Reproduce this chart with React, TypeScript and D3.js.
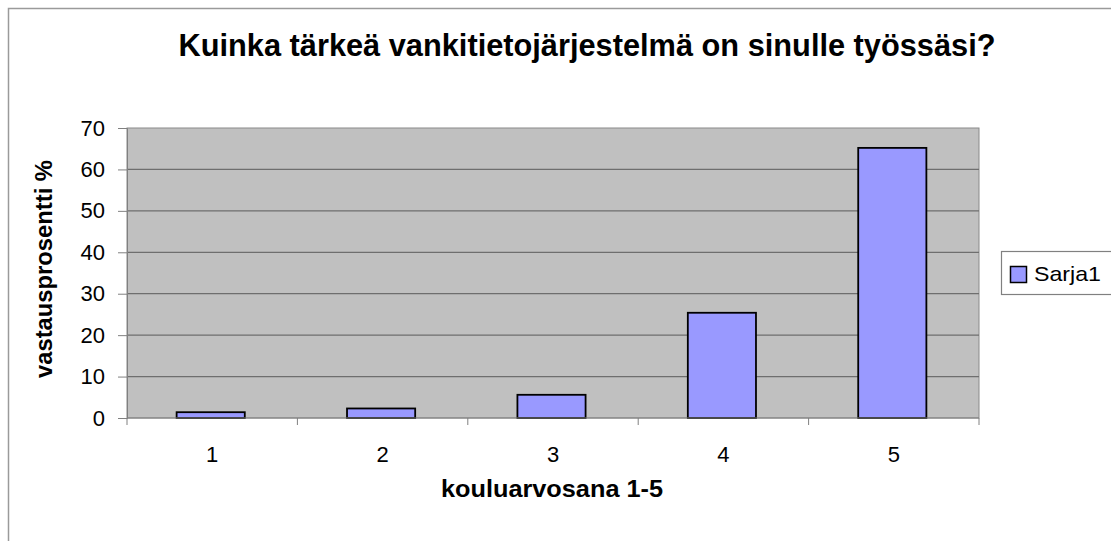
import { useEffect, useRef } from "react";
import * as d3 from "d3";

// chart data
const categories: string[] = ["1", "2", "3", "4", "5"];
const sarja1: number[] = [1.4, 2.3, 5.6, 25.4, 65.2];
const yTicks: number[] = [0, 10, 20, 30, 40, 50, 60, 70];

const title = "Kuinka tärkeä vankitietojärjestelmä on sinulle työssäsi?";
const xTitle = "kouluarvosana 1-5";
const yTitle = "vastausprosentti %";
const seriesName = "Sarja1";

const W = 1111;
const H = 541;
const margin = { top: 128, right: 132, bottom: 123, left: 127 };
const font = "'Liberation Sans', Arial, sans-serif";

export default function App() {
  const ref = useRef<SVGSVGElement | null>(null);

  useEffect(() => {
    const svg = d3.select(ref.current);
    svg.selectAll("*").remove();

    const x = d3
      .scaleBand<string>()
      .domain(categories)
      .range([margin.left, W - margin.right])
      .paddingInner(0.6)
      .paddingOuter(0.3);
    const y = d3.scaleLinear().domain([0, 70]).range([H - margin.bottom, margin.top]);

    // outer frame (only top + left edges visible)
    svg.append("path")
      .attr("d", `M8.5,${H} L8.5,8.5 L${W},8.5`)
      .attr("fill", "none")
      .attr("stroke", "#9a9a9a")
      .attr("stroke-width", 1.5);

    // plot background
    svg.append("rect")
      .attr("x", margin.left)
      .attr("y", margin.top)
      .attr("width", W - margin.left - margin.right)
      .attr("height", H - margin.top - margin.bottom)
      .attr("fill", "#c0c0c0")
      .attr("stroke", "#8a8a8a")
      .attr("stroke-width", 1);

    // gridlines
    svg.append("g")
      .selectAll("line")
      .data(yTicks.filter((t) => t > 0 && t < 70))
      .enter()
      .append("line")
      .attr("x1", margin.left)
      .attr("x2", W - margin.right)
      .attr("y1", (d) => y(d))
      .attr("y2", (d) => y(d))
      .attr("stroke", "#6e6e6e")
      .attr("stroke-width", 1.2);

    // bars
    svg.append("g")
      .selectAll("rect")
      .data(sarja1)
      .enter()
      .append("rect")
      .attr("x", (_d, i) => (x(categories[i]) as number) - 1.5)
      .attr("y", (d) => y(d))
      .attr("width", x.bandwidth())
      .attr("height", (d) => y(0) - y(d))
      .attr("fill", "#9999ff")
      .attr("stroke", "#000")
      .attr("stroke-width", 1.8);

    // y axis
    const yAxis = d3.axisLeft(y).tickValues(yTicks).tickSize(9).tickPadding(13);
    const gy = svg.append("g")
      .attr("transform", `translate(${margin.left},0)`)
      .call(yAxis);
    gy.select(".domain").attr("stroke", "#808080");
    gy.selectAll(".tick line").attr("stroke", "#808080");
    gy.selectAll(".tick text")
      .attr("font-family", font)
      .attr("font-size", 22)
      .attr("fill", "#000");

    // x axis: ticks at category boundaries
    const step = x.step();
    const bounds = d3.range(categories.length + 1).map((i) => margin.left + i * step);
    svg.append("line")
      .attr("x1", margin.left)
      .attr("x2", W - margin.right)
      .attr("y1", y(0))
      .attr("y2", y(0))
      .attr("stroke", "#808080")
      .attr("stroke-width", 1.2);
    svg.append("g")
      .selectAll("line")
      .data(bounds)
      .enter()
      .append("line")
      .attr("x1", (d) => d)
      .attr("x2", (d) => d)
      .attr("y1", y(0))
      .attr("y2", y(0) + 7)
      .attr("stroke", "#808080");
    svg.append("g")
      .selectAll("text")
      .data(categories)
      .enter()
      .append("text")
      .attr("x", (d) => (x(d) as number) + x.bandwidth() / 2)
      .attr("y", 462)
      .attr("text-anchor", "middle")
      .attr("font-family", font)
      .attr("font-size", 22)
      .text((d) => d);

    // titles
    svg.append("text")
      .attr("x", 587)
      .attr("y", 56)
      .attr("text-anchor", "middle")
      .attr("font-family", font)
      .attr("font-weight", "bold")
      .attr("font-size", 31)
      .attr("textLength", 817)
      .attr("lengthAdjust", "spacingAndGlyphs")
      .text(title);

    svg.append("text")
      .attr("x", 552)
      .attr("y", 497)
      .attr("text-anchor", "middle")
      .attr("font-family", font)
      .attr("font-weight", "bold")
      .attr("font-size", 24)
      .attr("textLength", 222)
      .attr("lengthAdjust", "spacingAndGlyphs")
      .text(xTitle);

    svg.append("text")
      .attr("transform", `translate(52,269) rotate(-90)`)
      .attr("text-anchor", "middle")
      .attr("font-family", font)
      .attr("font-weight", "bold")
      .attr("font-size", 24)
      .attr("textLength", 218)
      .attr("lengthAdjust", "spacingAndGlyphs")
      .text(yTitle);

    // legend
    const lg = svg.append("g");
    lg.append("rect")
      .attr("x", 1001.5)
      .attr("y", 251.5)
      .attr("width", 130)
      .attr("height", 43)
      .attr("fill", "#fff")
      .attr("stroke", "#808080")
      .attr("stroke-width", 1.2);
    lg.append("rect")
      .attr("x", 1010.5)
      .attr("y", 266.5)
      .attr("width", 16)
      .attr("height", 16)
      .attr("fill", "#9999ff")
      .attr("stroke", "#000")
      .attr("stroke-width", 1.5);
    lg.append("text")
      .attr("x", 1034)
      .attr("y", 280.5)
      .attr("font-family", font)
      .attr("font-size", 21)
      .attr("textLength", 67)
      .attr("lengthAdjust", "spacingAndGlyphs")
      .text(seriesName);
  }, []);

  return (
    <div style={{ position: "absolute", left: 0, top: 0 }}>
      <svg ref={ref} width={W} height={H} style={{ display: "block", background: "#fff" }} />
    </div>
  );
}
